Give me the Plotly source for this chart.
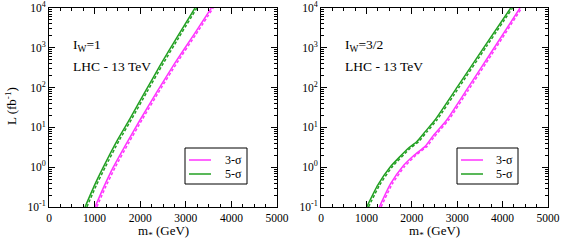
import plotly.graph_objects as go

# ---- data ----
# Left panel: I_W = 1   (m in GeV, log10 of L in fb^-1)
left_5s_m = [790, 1000, 1191, 1500, 1776, 2100, 2434, 2800, 3202]
left_5s_logL = [-1, -0.45, 0, 0.68, 1.22, 1.88, 2.55, 3.25, 4]
left_5s_dash_m = [830, 1040, 1232, 1542, 1818, 2143, 2476, 2842, 3243]
left_3s_m = [1009, 1200, 1410, 1700, 1996, 2380, 2763, 3170, 3560]
left_3s_logL = [-1, -0.5, 0, 0.6, 1.186, 1.92, 2.62, 3.32, 4]
left_3s_dash_m = [1048, 1240, 1452, 1742, 2038, 2422, 2805, 3212, 3600]

# Right panel: I_W = 3/2
right_5s_m = [1007, 1250, 1520, 1923, 2108, 2300, 2511, 3000, 3600, 4178]
right_5s_logL = [-1, -0.45, 0, 0.475, 0.64, 0.9, 1.186, 2.01, 3.03, 4]
right_5s_dash_m = [1047, 1290, 1562, 1965, 2150, 2342, 2553, 3042, 3642, 4218]
right_3s_m = [1285, 1530, 1800, 2050, 2300, 2450, 2769, 3200, 3700, 4383]
right_3s_logL = [-1, -0.42, 0.02, 0.3, 0.53, 0.76, 1.186, 1.93, 2.8, 4]
right_3s_dash_m = [1323, 1570, 1842, 2092, 2342, 2492, 2811, 3242, 3742, 4420]

legend_labels = ["3-σ", "5-σ"]

y_tickvals = [0.1, 1, 10, 100, 1000, 10000]
y_ticktext = ["10<sup>-1</sup>", "10<sup>0</sup>", "10<sup>1</sup>", "10<sup>2</sup>",
              "10<sup>3</sup>", "10<sup>4</sup>"]
x_tickvals = [0, 1000, 2000, 3000, 4000, 5000]

MAGENTA = "#ff33ff"
GREEN = "#22a022"
FONT = "Liberation Serif"
W, H = 562, 241

fig = go.Figure()

def L(vals):
    return [10 ** v for v in vals]

def add_panel(xa, ya, m5, l5, m5d, m3, l3, m3d):
    sm = 0.5
    for m, l, col, dash in [(m3, l3, MAGENTA, "solid"), (m5, l5, GREEN, "solid"),
                            (m3d, l3, MAGENTA, "3px,2px"), (m5d, l5, GREEN, "3px,2px")]:
        fig.add_trace(go.Scatter(x=m, y=L(l), mode="lines", showlegend=False,
                                 line=dict(color=col, width=1.5, dash=dash,
                                           shape="spline", smoothing=sm),
                                 xaxis=xa, yaxis=ya))

add_panel("x", "y", left_5s_m, left_5s_logL, left_5s_dash_m,
          left_3s_m, left_3s_logL, left_3s_dash_m)
add_panel("x2", "y2", right_5s_m, right_5s_logL, right_5s_dash_m,
          right_3s_m, right_3s_logL, right_3s_dash_m)

ydom = [1 - 207 / H, 1 - 8 / H]

xcommon = dict(range=[0, 5000], tickvals=x_tickvals, ticks="inside", ticklen=6,
               tickwidth=1, tickcolor="black", mirror="allticks", showline=True,
               linecolor="black", linewidth=1, showgrid=False, zeroline=False,
               automargin=False,
               tickfont=dict(family=FONT, size=11.5, color="black"),
               minor=dict(dtick=250, tick0=0, ticks="inside", ticklen=3,
                          tickcolor="black", showgrid=False))
ycommon = dict(type="log", range=[-1, 4], tickvals=y_tickvals, ticktext=y_ticktext,
               ticks="inside", ticklen=6, tickwidth=1, tickcolor="black",
               mirror="allticks", showline=True, linecolor="black", linewidth=1,
               showgrid=False, zeroline=False, automargin=False,
               tickfont=dict(family=FONT, size=11.5, color="black"),
               minor=dict(dtick="D1", ticks="inside", ticklen=3,
                          tickcolor="black", showgrid=False))

def ann(text, x, y, size=13.5, anchor="left", angle=0):
    return dict(text=text, x=x / W, y=1 - y / H, xref="paper", yref="paper",
                xanchor=anchor, yanchor="middle", showarrow=False, textangle=angle,
                font=dict(family=FONT, size=size, color="black"))

annotations = [
    ann("I<sub>W</sub>=1", 71, 45),
    ann("LHC - 13 TeV", 71, 66),
    ann("I<sub>W</sub>=3/2", 343, 45),
    ann("LHC - 13 TeV", 343, 66),
    ann("m<sub>*</sub> (GeV)", 163, 231, size=13, anchor="center"),
    ann("m<sub>*</sub> (GeV)", 434, 231, size=13, anchor="center"),
    ann("L (fb<sup>-1</sup>)", 11, 106, size=13, anchor="center", angle=-90),
]

# legend boxes (drawn as shapes + real text)
shapes = []
for (bx0, bx1) in [(185, 247), (457, 518)]:
    shapes.append(dict(type="rect", xref="paper", yref="paper",
                       x0=bx0 / W, x1=bx1 / W, y0=1 - 184 / H, y1=1 - 148 / H,
                       line=dict(color="black", width=1), fillcolor="white", layer="above"))
    for label, col, yy in [(legend_labels[0], MAGENTA, 160), (legend_labels[1], GREEN, 174)]:
        shapes.append(dict(type="line", xref="paper", yref="paper",
                           x0=(bx0 + 4) / W, x1=(bx0 + 26) / W, y0=1 - yy / H, y1=1 - yy / H,
                           line=dict(color=col, width=1.5), layer="above"))
        annotations.append(ann(label, bx1 - 3, yy, size=12, anchor="right"))

fig.update_layout(
    width=W, height=H, margin=dict(l=0, r=0, t=0, b=0, autoexpand=False),
    paper_bgcolor="white", plot_bgcolor="white",
    font=dict(family=FONT, color="black"),
    showlegend=False,
    xaxis=dict(domain=[49 / W, 277 / W], anchor="y", **xcommon),
    yaxis=dict(domain=ydom, anchor="x", **ycommon),
    xaxis2=dict(domain=[321 / W, 548 / W], anchor="y2", **xcommon),
    yaxis2=dict(domain=ydom, anchor="x2", **ycommon),
    annotations=annotations,
    shapes=shapes,
)

fig.write_html("out.html", config={"displayModeBar": False},
               post_script="document.body.style.margin='0';document.body.style.overflow='hidden';")
